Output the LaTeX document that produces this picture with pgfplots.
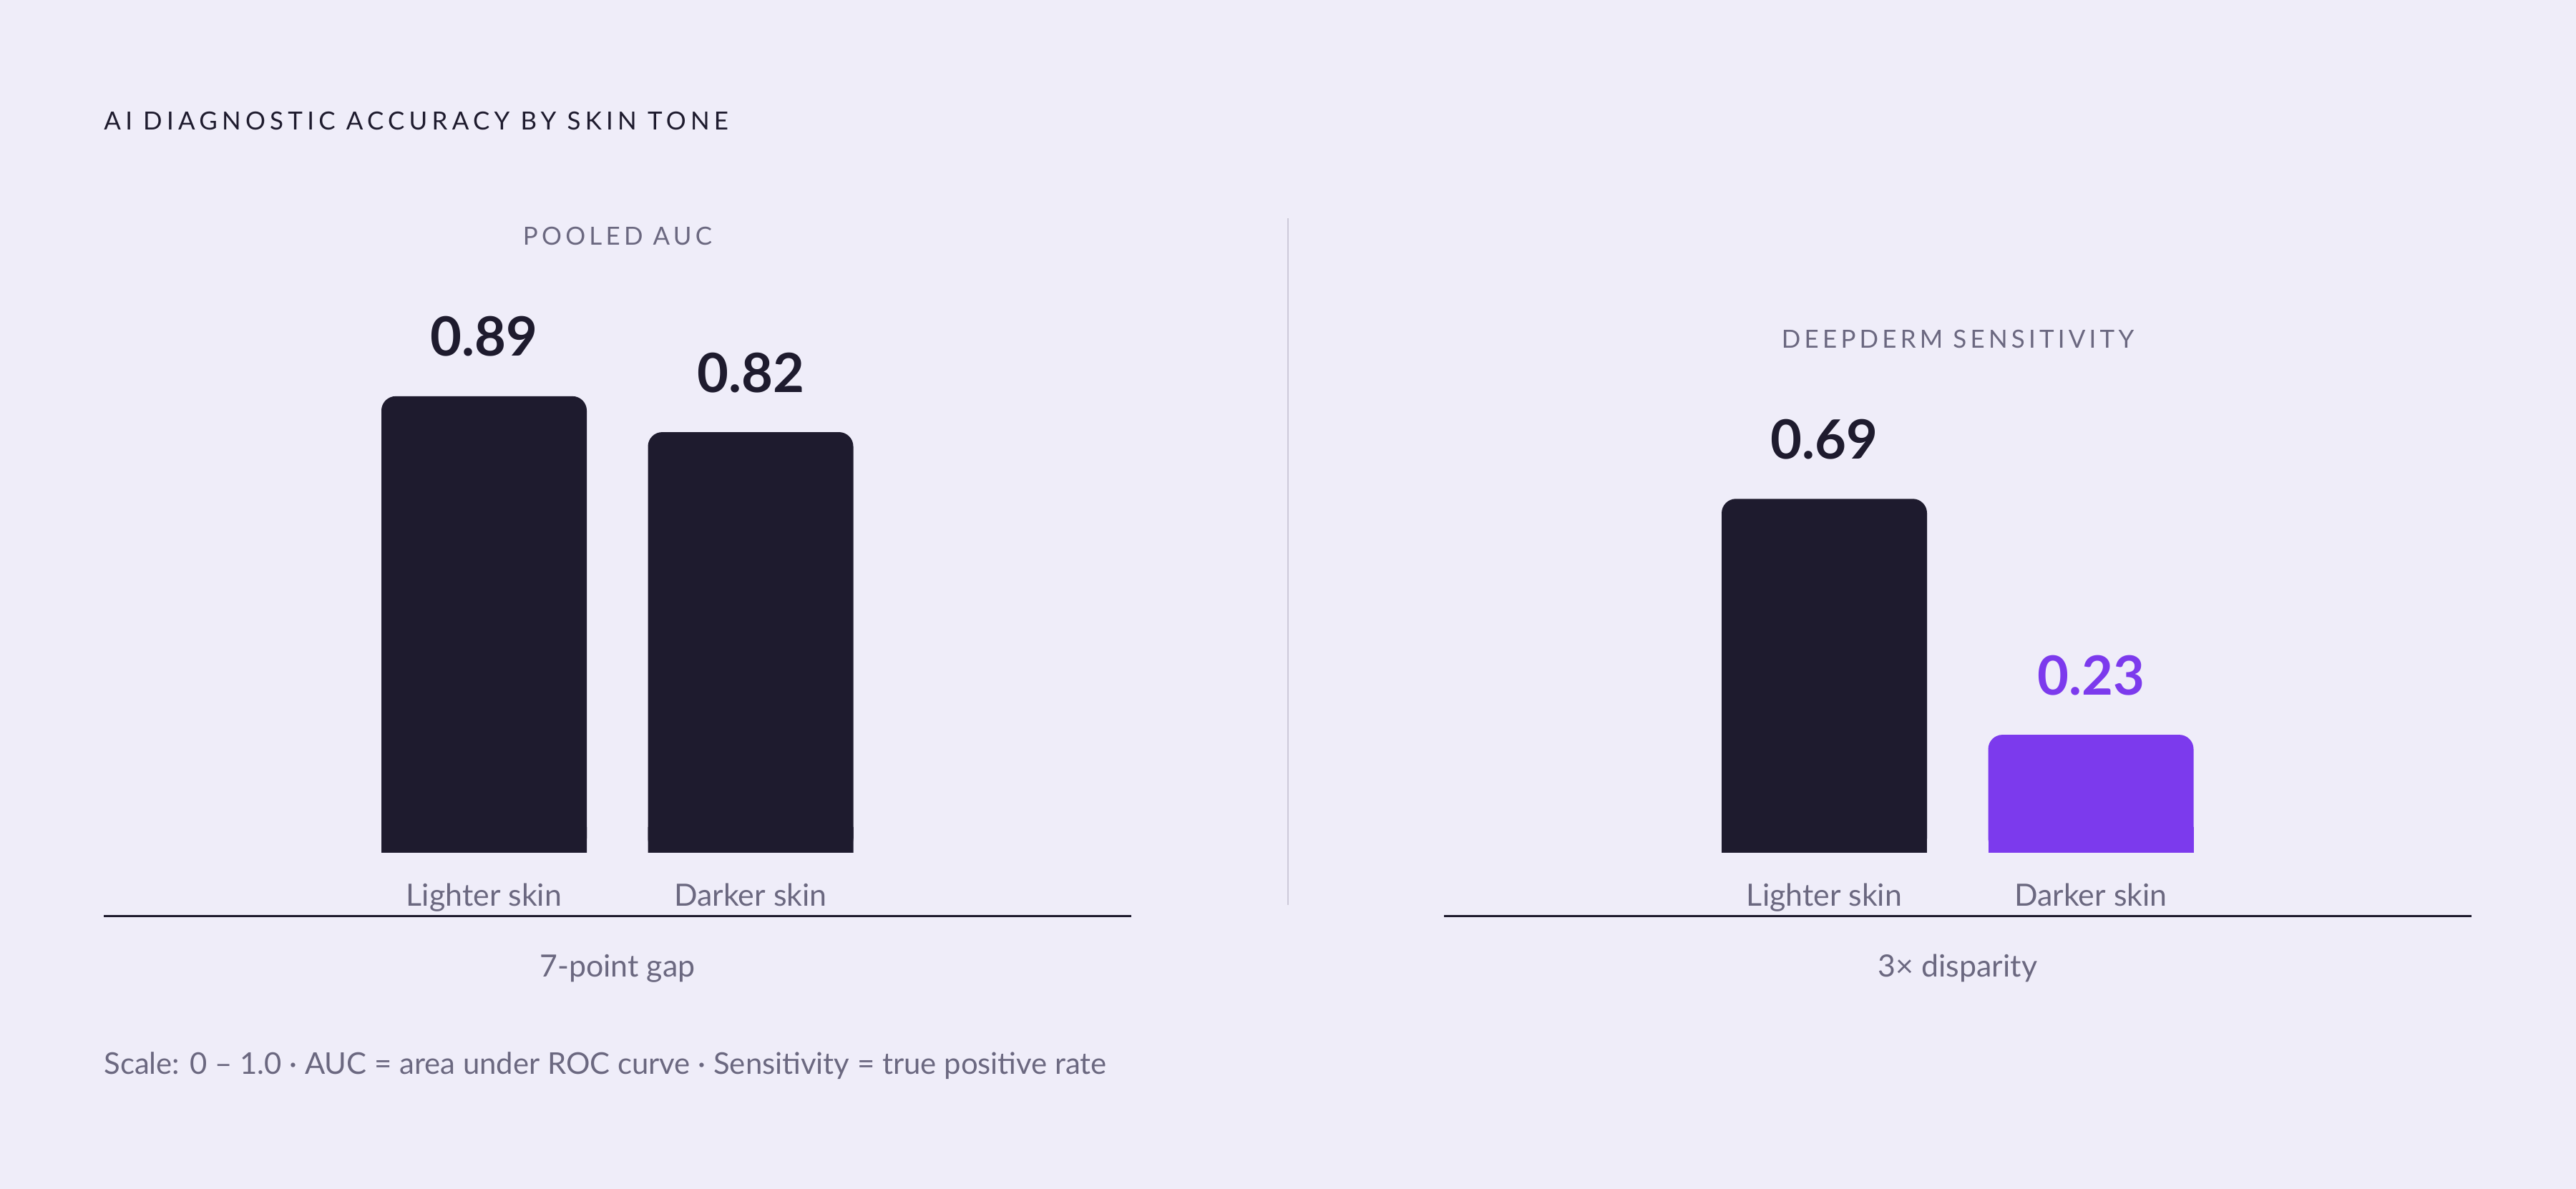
\documentclass[border=0pt]{standalone}
\usepackage{fontspec}
\setmainfont{Lato}
\newfontfamily\titlefont[LetterSpace=18]{Lato}
\newfontfamily\panelfont[LetterSpace=15]{Lato}
\usepackage{pgfplots}
\pgfplotsset{compat=1.18}
\definecolor{bg}{HTML}{EFEDF9}
\definecolor{ink}{HTML}{1E1B2E}
\definecolor{muted}{HTML}{6B6880}
\definecolor{accent}{HTML}{7C3AED}
\definecolor{divider}{HTML}{CDCAD9}
\pgfplotsset{panel/.style={
  scale only axis, width=718bp, height=403bp,
  xmin=-1.42685, xmax=2.42819, ymin=-0.12413, ymax=1,
  axis x line*=bottom, axis y line=none,
  x axis line style={ink, line width=1.5bp, -},
  xtick=\empty, ytick=\empty,
  ybar, bar width=143.5bp, bar shift=0pt,
  clip=false, anchor=south west,
},
valstyle/.style={nodes near coords, point meta=explicit symbolic,
  nodes near coords style={anchor=base, yshift=28bp, inner sep=0pt,
  font=\fontsize{38}{38}\selectfont\bfseries}},
}
\tikzset{catlabel/.style={anchor=base, inner sep=0pt, text=muted, font=\fontsize{21.5}{22}\selectfont}}
\begin{document}
\begin{tikzpicture}
\fill[bg] (0,0) rectangle (1800bp,831bp);
\node[anchor=base west, inner sep=0pt, text=ink, font=\fontsize{17.5}{19}\selectfont\titlefont] at (72.5bp,740bp) {AI DIAGNOSTIC ACCURACY BY SKIN TONE};
% left panel
\begin{axis}[panel, at={(72.5bp,190.5bp)}]
\addplot[fill=ink, draw=none, bar shift=0pt, rounded corners=10bp, valstyle, nodes near coords style={text=ink}] coordinates {(0,0.89)[0.89] (1,0.82)[0.82]};
\addplot[fill=ink, draw=none, bar shift=0pt] coordinates {(0,0.05) (1,0.05)};
\node[catlabel] at (axis cs:0,-0.1040) {Lighter skin};
\node[catlabel] at (axis cs:1,-0.1040) {Darker skin};
\end{axis}
% right panel
\begin{axis}[panel, at={(1009bp,190.5bp)}]
\addplot[fill=ink, draw=none, bar shift=0pt, rounded corners=10bp, valstyle, nodes near coords style={text=ink}] coordinates {(0,0.69)[0.69]};
\addplot[fill=accent, draw=none, bar shift=0pt, rounded corners=10bp, valstyle, nodes near coords style={text=accent}] coordinates {(1,0.23)[0.23]};
\addplot[fill=ink, draw=none, bar shift=0pt] coordinates {(0,0.05)};
\addplot[fill=accent, draw=none, bar shift=0pt] coordinates {(1,0.05)};
\node[catlabel] at (axis cs:0,-0.1040) {Lighter skin};
\node[catlabel] at (axis cs:1,-0.1040) {Darker skin};
\end{axis}
\node[anchor=base, inner sep=0pt, text=muted, font=\fontsize{17.5}{18}\selectfont\panelfont] at (431.5bp,659.5bp) {POOLED AUC};
\node[anchor=base, inner sep=0pt, text=muted, font=\fontsize{17.5}{18}\selectfont\panelfont] at (1368bp,587.5bp) {DEEPDERM SENSITIVITY};
\draw[divider, line width=1.2bp] (900bp,198.5bp) -- (900bp,678.5bp);
\node[anchor=base, inner sep=0pt, text=muted, font=\fontsize{21.5}{22}\selectfont] at (431.5bp,148bp) {7-point gap};
\node[anchor=base, inner sep=0pt, text=muted, font=\fontsize{21.5}{22}\selectfont] at (1368bp,148bp) {3× disparity};
\node[anchor=base west, inner sep=0pt, text=muted, font=\fontsize{21}{22}\selectfont] at (72.5bp,80bp) {Scale: 0 – 1.0 · AUC = area under ROC curve · Sensitivity = true positive rate};
\end{tikzpicture}
\end{document}
